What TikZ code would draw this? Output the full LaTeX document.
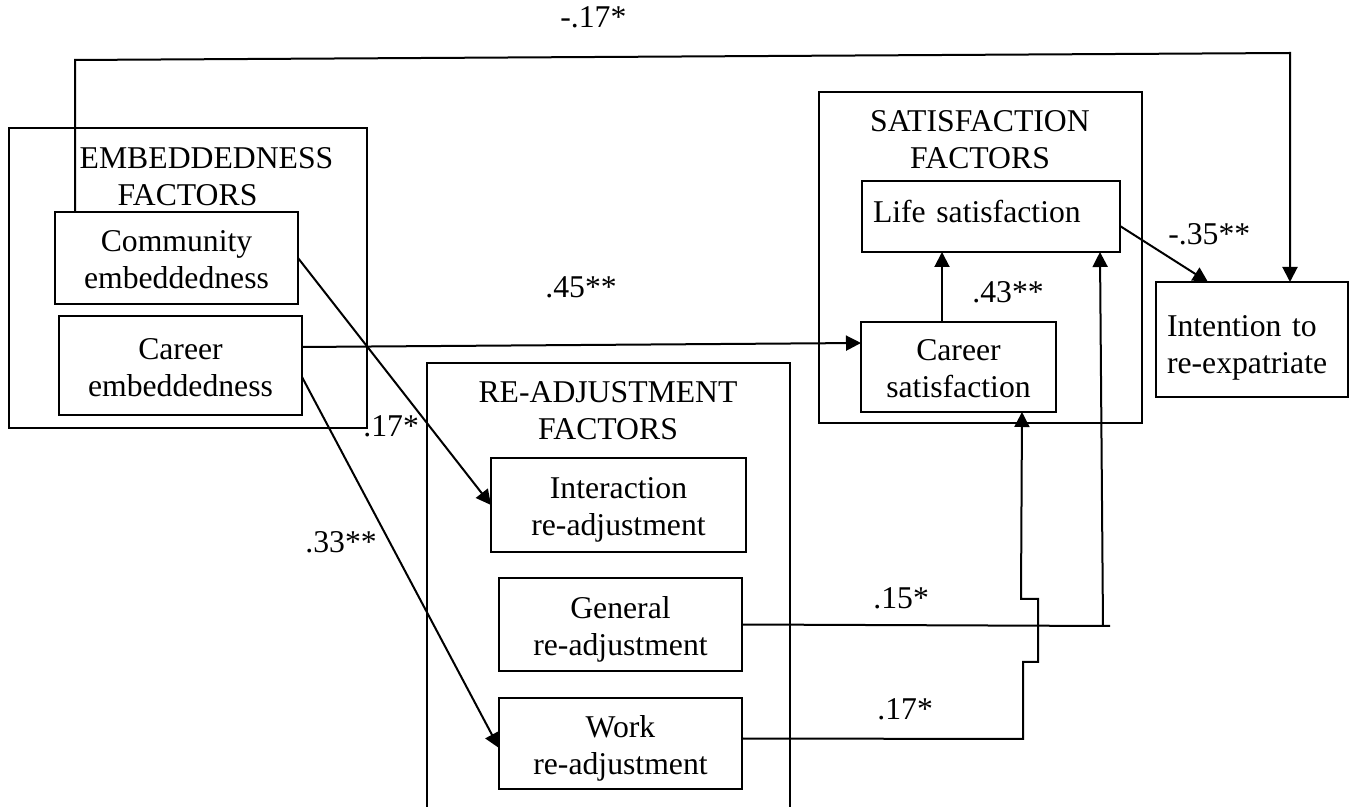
\documentclass[tikz,border=0pt]{standalone}
\usepackage{fontspec}
\setmainfont{Liberation Serif}
\usetikzlibrary{arrows.meta}
\newcommand{\uprule}[1]{\rule{0pt}{#1}}
\newcommand{\dnrule}{\rule[-5.55pt]{0pt}{5.55pt}}

\begin{document}
\begin{tikzpicture}[x=0.5pt,y=-0.5pt,>={Triangle[length=7.5pt,width=7.5pt]},font=\fontsize{15.85}{18.5}\selectfont,
  grp/.style={draw,line width=0.6pt,inner sep=0pt,outer sep=0pt},
  grptitle/.style={align=center,inner sep=0pt},
  box/.style={draw,line width=0.6pt,align=center,inner sep=0pt,outer sep=0pt},
  lbox/.style={draw,line width=0.6pt,align=left,inner xsep=5.5pt,inner ysep=0pt,outer sep=0pt},
  coef/.style={anchor=base west,inner sep=0pt},
  link/.style={line width=1pt}]
  \useasboundingbox (0,0) rectangle (1357,807);

  % groups
  \node[grp,minimum width=179pt,minimum height=150pt] (embgrp) at (188,278) {};
  \node[grp,minimum width=161.5pt,minimum height=165.5pt] (satgrp) at (980.5,257.5) {};
  \draw[line width=0.6pt] (427,807) |- (790,363) -- (790,807);
  \node[grptitle] (embtitle) at (187.5,179.6) {\strut\hspace*{19pt}EMBEDDEDNESS\\FACTORS\strut};
  \node[grptitle] (sattitle) at (980,143.1) {\strut SATISFACTION\\FACTORS\strut};
  \node[grptitle] (readjtitle) at (608,414.1) {\strut RE-ADJUSTMENT\\FACTORS\strut};

  % factors
  \node[box,minimum width=121.5pt,minimum height=46pt] (comm) at (176.5,258) {\uprule{17.9pt}Community\\embeddedness\dnrule};
  \node[box,minimum width=121.5pt,minimum height=49.5pt] (caremb) at (180.5,365.5) {\uprule{17.9pt}Career\\embeddedness\dnrule};
  \node[lbox,text width=118pt,minimum height=35.5pt] (life) at (991,216.5) {\uprule{9.05pt}Life satisfaction\dnrule};
  \node[box,minimum width=97.5pt,minimum height=45pt] (carsat) at (958.5,367) {\uprule{17.9pt}Career\\satisfaction\dnrule};
  \node[lbox,text width=85pt,minimum height=57.5pt] (intent) at (1252,339.5) {\uprule{21.55pt}Intention to\\re-expatriate\dnrule};
  \node[box,minimum width=127.5pt,minimum height=47pt] (interact) at (618.5,505) {\uprule{17.9pt}Interaction\\re-adjustment\dnrule};
  \node[box,minimum width=121.5pt,minimum height=46.5pt] (general) at (620.5,624.5) {\uprule{17.9pt}General\\re-adjustment\dnrule};
  \node[box,minimum width=121.5pt,minimum height=45.5pt] (work) at (620.5,743.5) {\uprule{17.9pt}Work\\re-adjustment\dnrule};

  % bends
  \coordinate (loopL) at (75,60);
  \coordinate (loopR) at (1290,53);
  \coordinate (genEnd) at (1110,626);
  \coordinate (genUp) at (1103,626);
  \coordinate (workBend) at (1023,739);

  % paths
  \draw[link,->] ([xshift=10pt]comm.north west) -- (loopL) -- (loopR) -- ([xshift=19pt]intent.north);
  \draw[link,->] (comm.east) -- (interact.west);
  \draw[link,->] ([yshift=9.25pt]caremb.east) -- ([yshift=12pt]carsat.west);
  \draw[link,->] ([yshift=-5.75pt]caremb.east) -- ([yshift=-2.25pt]work.west);
  \draw[link,->] ([xshift=-8.25pt]carsat.north) -- ([xshift=-24.5pt]life.south);
  \draw[link,->] ([yshift=-4.75pt]life.east) -- ([xshift=-22pt]intent.north);
  \draw[link] (general.east) -- (genEnd);
  \draw[link,->] (genUp) -- ([xshift=54.5pt]life.south);
  \draw[link,->] ([yshift=2.5pt]work.east) -- (workBend) -- ++(0,-77) -- ++(15,0) -- ++(0,-63) -- ++(-17,0) -- ([xshift=31.75pt]carsat.south);

  % coefficients
  \node[coef] (lblLoop) at (560,28) {-.17*};
  \node[coef] (lblCommInt) at (363,437) {.17*};
  \node[coef] (lblCarCar) at (545,298) {.45**};
  \node[coef] (lblCarWork) at (305,553) {.33**};
  \node[coef] (lblCarLife) at (972,303) {.43**};
  \node[coef] (lblLifeInt) at (1168,245) {-.35**};
  \node[coef] (lblGenLife) at (873,609) {.15*};
  \node[coef] (lblWorkCar) at (877,720) {.17*};
\end{tikzpicture}
\end{document}
